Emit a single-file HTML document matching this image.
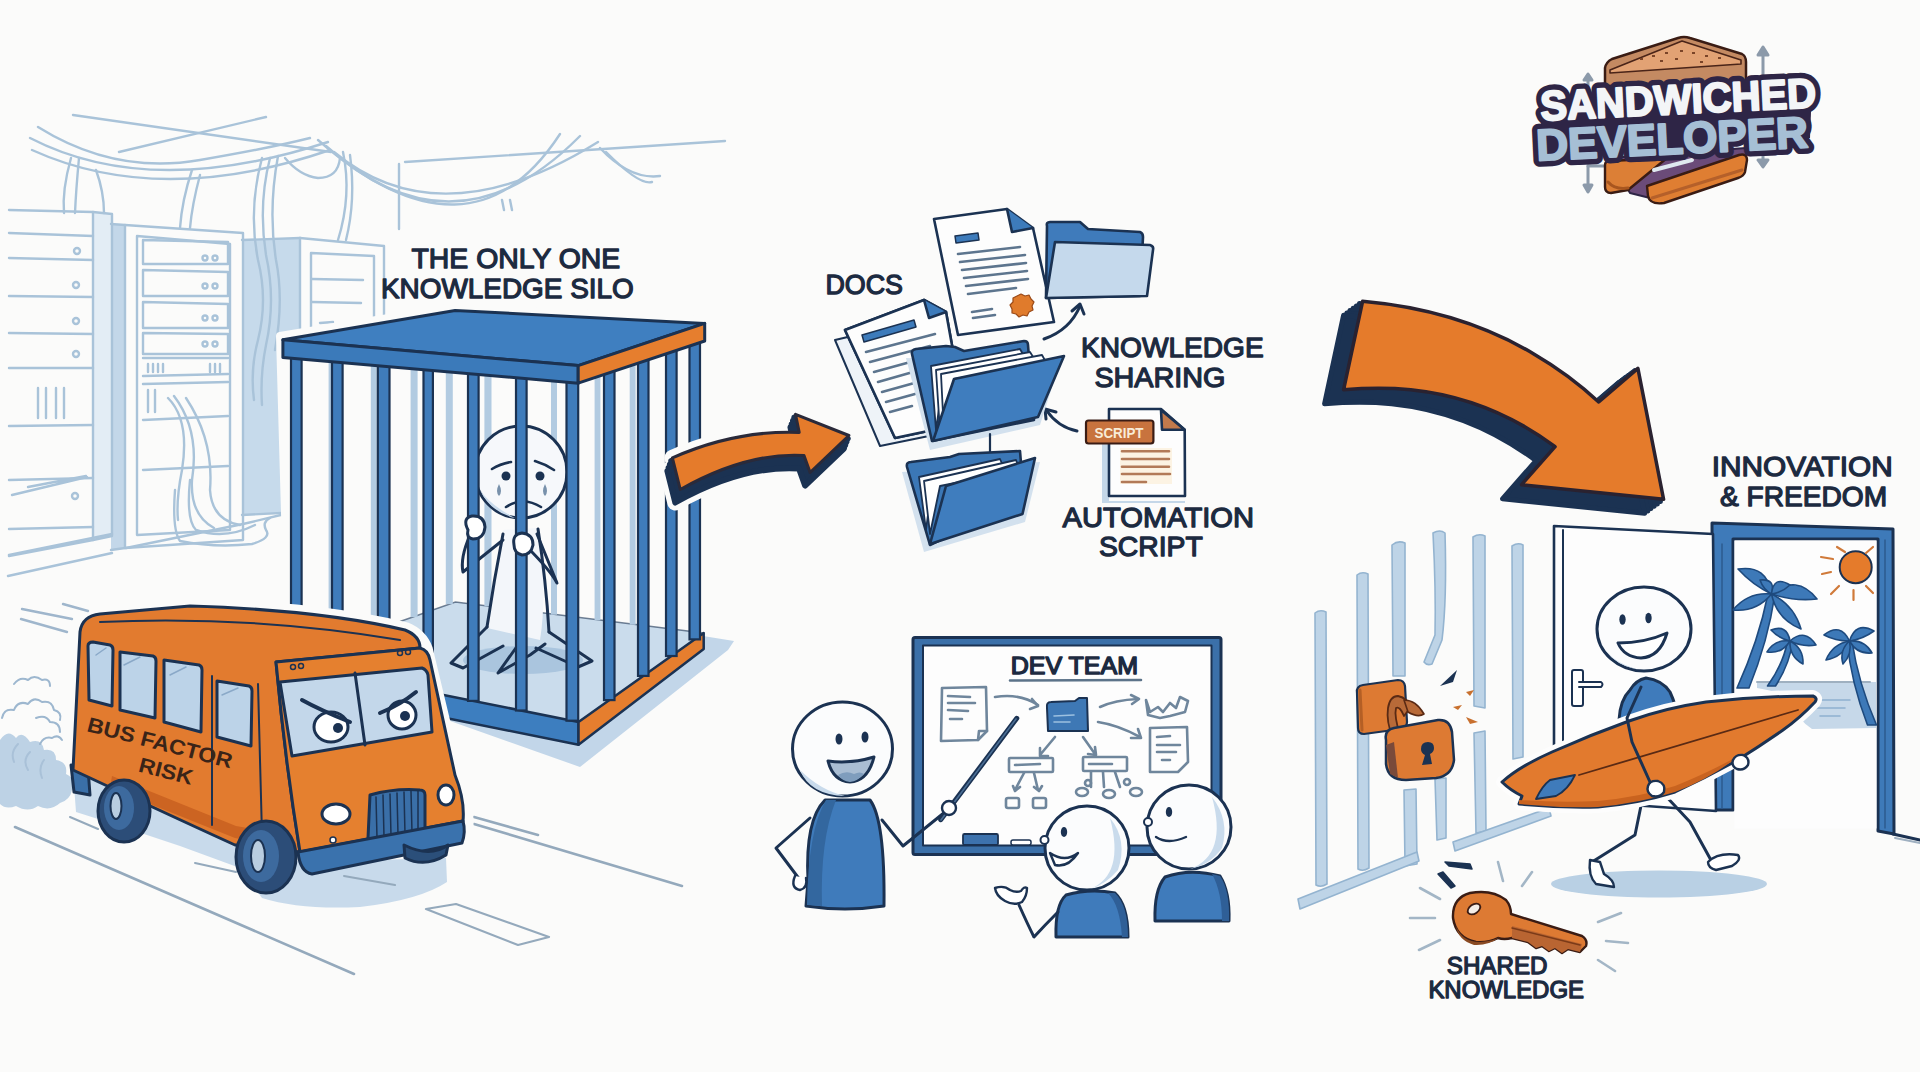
<!DOCTYPE html>
<html><head><meta charset="utf-8">
<style>
html,body{margin:0;padding:0;background:#fbfbfa;width:1920px;height:1072px;overflow:hidden}
svg{display:block}
text{font-family:"Liberation Sans",sans-serif;font-weight:bold}
#labels text{font-weight:normal}
</style></head>
<body>
<svg width="1920" height="1072" viewBox="0 0 1920 1072">
<rect width="1920" height="1072" fill="#fbfbfa"/>

<!-- ============ SERVER ROOM (sketch) ============ -->
<g id="server" fill="none" stroke="#a9c3d9" stroke-width="2.4" stroke-linecap="round" stroke-linejoin="round">
<!-- rack3 filled -->
<path d="M242 240 L300 238 L300 512 L242 515 Z" fill="#c6daeb" stroke="none"/>
<path d="M111 224 L125 225 L125 548 L111 550 Z" fill="#c3d7e9" stroke="none"/>
<path d="M93 212 L112 214 L112 536 L93 540 Z" fill="#e3edf5" stroke="none"/>
<!-- wires -->
<path d="M73 115 L331 152"/>
<path d="M119 152 L266 117"/>
<path d="M38 127 Q115 175 200 160 Q270 148 310 138"/>
<path d="M30 138 Q150 200 328 142"/>
<path d="M32 150 Q160 208 330 150"/>
<path d="M318 140 Q470 272 560 134"/>
<path d="M326 146 Q455 262 580 136"/>
<path d="M334 152 Q440 240 598 142"/>
<path d="M405 162 L725 141"/>
<path d="M600 148 Q630 180 660 176"/>
<path d="M606 152 Q640 186 652 182"/>
<path d="M399 164 L399 229"/>
<path d="M502 200 L504 210 M510 200 L512 210"/>
<path d="M71 158 Q62 190 64 213"/>
<path d="M79 158 Q76 190 75 213"/>
<path d="M96 170 Q104 192 104 213"/>
<path d="M192 170 Q182 200 180 228"/>
<path d="M200 175 Q192 205 190 228"/>
<path d="M262 158 Q248 210 258 260 Q268 300 258 340 Q250 370 254 400"/>
<path d="M270 158 Q258 205 266 255 Q276 300 266 345 Q260 375 262 405"/>
<path d="M278 156 Q268 210 276 260 Q284 300 275 350"/>
<path d="M285 158 Q300 176 318 178 Q338 178 340 158"/>
<path d="M343 152 Q352 195 338 240"/>
<path d="M350 155 Q356 200 346 240"/>
<!-- rack1 -->
<path d="M9 210 L93 212 L112 214 L112 536 L93 540 L9 556"/>
<path d="M93 212 L93 540"/>
<path d="M9 233 L93 236 M9 258 L93 260 M9 296 L93 297 M9 333 L93 334 M9 368 L93 368 M9 426 L93 425 M9 480 L93 478 M9 529 L93 527"/>
<circle cx="77" cy="251" r="3"/><circle cx="76" cy="285" r="3"/><circle cx="76" cy="321" r="3"/><circle cx="76" cy="354" r="3"/><circle cx="75" cy="496" r="3"/>
<path d="M38 388 L38 418 M46 388 L46 418 M56 388 L56 418 M64 388 L64 418"/>
<!-- rack2 -->
<path d="M111 224 L125 225 L243 233 L243 540 L125 548 L111 550"/>
<path d="M125 225 L125 548"/>
<path d="M137 236 L230 244 L230 530 L137 535 Z"/>
<path d="M143 240 L228 242 L228 264 L143 264 Z"/>
<path d="M143 270 L228 272 L228 296 L143 296 Z"/>
<path d="M143 302 L228 304 L228 328 L143 328 Z"/>
<path d="M143 333 L228 334 L228 354 L143 354 Z"/>
<path d="M143 358 L228 358 M143 376 L228 374"/>
<path d="M148 364 L148 372 M153 364 L153 372 M158 364 L158 372 M163 364 L163 372 M210 364 L210 372 M215 364 L215 372 M220 364 L220 372"/>
<path d="M143 384 L228 382 M143 420 L228 416"/>
<path d="M148 390 L148 412 M155 390 L155 412"/>
<path d="M143 470 L228 466"/>
<circle cx="205" cy="258" r="2.5"/><circle cx="215" cy="258" r="2.5"/>
<circle cx="205" cy="286" r="2.5"/><circle cx="215" cy="286" r="2.5"/>
<circle cx="205" cy="318" r="2.5"/><circle cx="215" cy="318" r="2.5"/>
<circle cx="205" cy="344" r="2.5"/><circle cx="215" cy="344" r="2.5"/>
<path d="M168 398 Q190 420 182 470 Q176 500 178 520"/>
<path d="M174 396 Q200 430 192 480 Q190 515 214 528"/>
<path d="M186 398 Q214 440 210 490 Q212 520 240 525"/>
<!-- rack3 / rack4 -->
<path d="M242 240 L300 238"/>
<path d="M300 238 L384 246 L384 330"/>
<path d="M300 238 L300 512"/>
<path d="M311 330 L311 253 L374 256 L374 320"/>
<path d="M312 279 L363 280 M312 302 L361 303 M320 323 L333 322"/>
<path d="M242 515 L300 512"/>
<!-- floor lines -->
<path d="M9 555 L112 534 M8 576 L112 553 M126 548 L243 524 M243 524 L285 514 M285 524 L320 506"/>
<path d="M12 495 L87 477 M28 487 L86 476"/>
<path d="M175 490 Q172 530 180 541 Q215 548 252 544 Q272 538 266 530 Q262 522 270 518"/>
<path d="M190 480 Q186 520 196 530 Q225 540 255 525"/>
</g>

<!-- ============ CAGE ============ -->
<g id="cage">
<path d="M280 336 L455 307 L709 320 L709 660 L585 748 L290 690 Z" fill="#fbfbfa" stroke="#fbfbfa" stroke-width="8" stroke-linejoin="round"/>
<path d="M436 716 L580 767 L728 650 L734 641 L703 636 L578 744 Z" fill="#c2d6e9"/>
<path d="M290 670 L300 655 L400 621.5 L455.4 602 L703.7 633 L578.5 722 L436 693.4 L300 666 Z" fill="#cadcec"/>
<path d="M400 621.5 L455.4 602 L703.7 633" fill="none" stroke="#1b3252" stroke-width="1.5" opacity=".6"/>
<ellipse cx="523" cy="660" rx="60" ry="14" fill="#aac5de"/>
<rect x="328.6" y="360" width="5.8" height="287.7" fill="#b2cbe1"/>
<rect x="370.8" y="360" width="5.8" height="272.1" fill="#b2cbe1"/>
<rect x="410.6" y="360" width="7.0" height="257.1" fill="#b2cbe1"/>
<rect x="445.8" y="360" width="7.0" height="244.1" fill="#b2cbe1"/>
<rect x="484.4" y="360" width="7.1" height="246.2" fill="#b2cbe1"/>
<rect x="551.0" y="360" width="6.0" height="254.7" fill="#b2cbe1"/>
<rect x="594.6" y="360" width="5.8" height="260.2" fill="#b2cbe1"/>
<rect x="629.7" y="360" width="5.9" height="264.7" fill="#b2cbe1"/>
<g stroke="#1b3252" stroke-width="3" fill="none" stroke-linecap="round" stroke-linejoin="round">
<path d="M503 530 Q494 580 487 628 L540 640 Q548 590 537 528 Z" fill="#f3f6fa" stroke="none"/>
<path d="M503 534 Q494 580 487 627 M538 529 Q546 580 549 632"/>
<path d="M487 627 L451 663 L463 668 L503 646 M518 645 L498 673 L530 655 L545 644 M549 632 L592 661 L578 667 L536 648"/>
<path d="M503 540 L463 572 Q460 558 470 535"/>
<path d="M537 534 L557 583 Q550 570 528 548"/>
<circle cx="521" cy="472" r="46" fill="#f6f8fb"/>
<path d="M480 490 Q490 512 515 518 Q490 505 480 490Z" fill="#c9dbec" stroke="none"/>
<path d="M492 469 Q500 464 511 462 M535 461 Q545 464 554 470" stroke-width="2.6"/>
<circle cx="506" cy="476" r="4.5" fill="#1b3252" stroke="none"/><circle cx="540" cy="476" r="4.5" fill="#1b3252" stroke="none"/>
<path d="M506 507 Q523 496 541 507" stroke-width="2.6"/>
<path d="M499 484 Q495 492 499 496 Q503 492 499 484Z" fill="#7891ab" stroke="none"/>
<path d="M545 484 Q541 492 545 496 Q549 492 545 484Z" fill="#7891ab" stroke="none"/>
</g>
<path d="M290 664 L436 693.4 L578.5 722 L578.5 744.7 L436 716 L290 686 Z" fill="#3d7ebf" stroke="#1b3252" stroke-width="2.5" stroke-linejoin="round"/>
<path d="M578.5 722 L703.7 633 L703.7 649 L578.5 744.7 Z" fill="#e67e2e" stroke="#1b3252" stroke-width="2.5" stroke-linejoin="round"/>
<rect x="291.0" y="357.0" width="10.6" height="308.4" fill="#3f7cbb" stroke="#1b3252" stroke-width="2.2"/>
<rect x="332.0" y="360.6" width="10.6" height="313.0" fill="#3f7cbb" stroke="#1b3252" stroke-width="2.2"/>
<rect x="377.8" y="364.7" width="11.7" height="318.2" fill="#3f7cbb" stroke="#1b3252" stroke-width="2.2"/>
<rect x="423.5" y="368.5" width="9.4" height="323.3" fill="#3f7cbb" stroke="#1b3252" stroke-width="2.2"/>
<rect x="468.0" y="372.5" width="10.6" height="328.4" fill="#3f7cbb" stroke="#1b3252" stroke-width="2.2"/>
<rect x="516.0" y="376.7" width="10.6" height="333.8" fill="#3f7cbb" stroke="#1b3252" stroke-width="2.2"/>
<rect x="566.5" y="381.2" width="11.7" height="339.5" fill="#3f7cbb" stroke="#1b3252" stroke-width="2.2"/>
<rect x="604.0" y="369.1" width="10.5" height="331.0" fill="#3f7cbb" stroke="#1b3252" stroke-width="2.2"/>
<rect x="638.0" y="357.7" width="10.5" height="318.2" fill="#3f7cbb" stroke="#1b3252" stroke-width="2.2"/>
<rect x="666.0" y="348.4" width="10.6" height="307.6" fill="#3f7cbb" stroke="#1b3252" stroke-width="2.2"/>
<rect x="689.5" y="340.6" width="10.5" height="298.8" fill="#3f7cbb" stroke="#1b3252" stroke-width="2.2"/>
<g stroke="#1b3252" stroke-width="3" fill="#fff"><path d="M468 530 Q462 518 472 516 Q484 515 485 527 Q484 539 473 539 Q466 538 468 530Z"/><path d="M514 545 Q512 534 522 533 Q533 534 533 545 Q531 555 522 555 Q514 553 514 545Z"/></g>
<path d="M282.9 339.8 L455.1 310.5 L704.7 323.4 L578.2 365.6 Z" fill="#3f7fc0" stroke="#1b3252" stroke-width="3" stroke-linejoin="round"/>
<path d="M282.9 339.8 L578.2 365.6 L578.2 383.2 L282.9 357.4 Z" fill="#3b7aba" stroke="#1b3252" stroke-width="3" stroke-linejoin="round"/>
<path d="M578.2 365.6 L704.7 323.4 L704.7 341 L578.2 383.2 Z" fill="#e67e2e" stroke="#1b3252" stroke-width="3" stroke-linejoin="round"/>
</g>

<!-- ============ BUS ============ -->
<g id="bus" stroke="#1b3252" stroke-width="3" stroke-linejoin="round" stroke-linecap="round">
<!-- road -->
<g stroke="#94a9bc" stroke-width="2.6" fill="none">
<path d="M15 827 L354 974"/>
<path d="M474 824 L682 886"/>
<path d="M474 817 L538 835"/>
<path d="M426 909 L456 904 L549 937 L518 945 Z" stroke-width="2.2"/>
</g>
<!-- halo -->
<path d="M80 632 Q82 616 100 614 L190 606 Q320 610 405 630 Q420 636 425 650 L455 775 Q468 800 465 840 L446 870 L310 876 L290 895 L240 892 L232 870 L140 836 L100 836 L71 795 L73 770 Z" fill="#fbfbfa" stroke="#fbfbfa" stroke-width="16"/>
<!-- shadow -->
<path d="M76 812 L120 826 L180 846 L240 868 L262 898 Q300 910 360 907 Q420 900 447 882 L446 858 L300 862 L235 840 L73 772 Z" fill="#c8daeb" stroke="none"/>
<path d="M70 817 L98 829 M195 863 L236 872 M344 876 L395 885" stroke="#94a9bc" stroke-width="2" fill="none"/>
<!-- smoke -->
<g fill="#bdd2e5" stroke="#9db7cf" stroke-width="2">
<path d="M72 790 Q70 800 60 803 Q50 812 38 806 Q28 813 16 806 Q6 810 0 804 L0 740 Q8 728 16 738 Q22 730 30 742 Q42 738 44 750 Q56 748 56 760 Q68 762 66 774 Q76 778 72 790 Z" stroke="none"/>
<path d="M18 744 Q10 752 14 762 M30 752 Q22 760 28 770 M44 760 Q38 768 42 778" fill="none" stroke="#a9c1d8"/>
<path d="M60 732 Q60 722 50 722 Q46 714 36 718 M40 744 Q44 736 52 738 Q58 734 62 740" fill="none"/>
<path d="M2 718 Q4 708 14 710 Q18 700 28 704 Q34 696 42 702 Q52 700 54 710 Q62 712 60 720" fill="none"/>
<path d="M14 684 Q20 676 28 680 Q34 674 42 680 Q50 678 50 686" fill="none"/>
</g>
<path d="M22 609 L72 619 M21 619 L67 632 M63 604 L88 611" stroke="#9fb6cc" stroke-width="2.4" fill="none"/>

<!-- rear bumper -->
<path d="M71 765 L88 768 L90 795 L74 792 Z" fill="#3a6fa8"/>
<!-- body side -->
<path d="M80 632 Q82 616 100 614 L190 606 Q320 610 405 630 Q420 636 420 648 L276 662 Q285 760 300 852 L235 845 Q180 820 73 770 Z" fill="#e27b2f"/>
<!-- front face -->
<path d="M276 662 L420 648 Q428 650 430 660 L455 775 Q465 800 463 821 L300 852 Q285 760 276 662 Z" fill="#e5802f"/>
<path d="M110 788 L235 838 L287 847 L288 835 L236 826 L112 776 Z" fill="#cc6422" stroke="none"/>
<!-- roof highlight line -->
<path d="M100 622 Q250 615 400 640" fill="none" stroke-width="2"/>
<!-- side windows -->
<g fill="#bcd3e8">
<path d="M88 646 Q88 642 93 642 L110 645 Q113 646 113 650 L112 706 L89 700 Z"/>
<path d="M120 652 L153 656 Q156 657 156 661 L155 718 L120 710 Z"/>
<path d="M164 660 L199 665 Q202 666 202 670 L201 732 L164 722 Z"/>
<path d="M217 681 L249 686 Q252 687 252 691 L251 746 L217 737 Z"/>
</g>
<path d="M96 655 L106 648 M124 665 L140 657 M170 675 L186 667 M222 695 L238 688" stroke="#8aa9c8" stroke-width="1.5" fill="none"/>
<!-- door -->
<path d="M212 676 L212 825 M258 684 L262 835" fill="none" stroke-width="2"/>
<!-- windshield -->
<path d="M280 682 L422 668 Q427 670 428 675 L432 732 L292 756 Z" fill="#c3d7ea"/>
<path d="M355 673 L365 745" fill="none"/>
<!-- eyes -->
<g>
<ellipse cx="331" cy="727" rx="17" ry="15" fill="#fff"/>
<ellipse cx="402" cy="715" rx="14" ry="14" fill="#fff"/>
<circle cx="338" cy="728" r="5" fill="#1b3252" stroke="none"/>
<circle cx="405" cy="716" r="5" fill="#1b3252" stroke="none"/>
<path d="M302 700 Q320 710 350 722" fill="none" stroke-width="4"/>
<path d="M380 713 Q400 705 416 692" fill="none" stroke-width="4"/>
</g>
<!-- front lights top -->
<circle cx="293" cy="667" r="2.5" fill="none" stroke-width="1.5"/><circle cx="301" cy="666" r="2.5" fill="none" stroke-width="1.5"/>
<circle cx="400" cy="653" r="2.5" fill="none" stroke-width="1.5"/><circle cx="408" cy="652" r="2.5" fill="none" stroke-width="1.5"/>
<!-- grille -->
<path d="M370 795 Q395 788 420 790 Q425 790 425 795 L425 832 Q400 836 372 842 Q368 842 368 838 Z" fill="#3a6fa8"/>
<path d="M376 797 L377 838 M383 795 L384 837 M390 794 L391 836 M397 793 L398 835 M404 792 L405 834 M411 791 L412 833 M418 791 L418 832" stroke-width="1.5" fill="none"/>
<!-- headlights -->
<ellipse cx="336" cy="814" rx="14" ry="10" fill="#fff"/>
<ellipse cx="446" cy="795" rx="8" ry="10" fill="#fff"/>
<circle cx="333" cy="840" r="3" fill="#fff" stroke-width="1.5"/>
<!-- bumper -->
<path d="M298 852 L463 821 Q466 832 462 843 L312 874 Q300 872 298 852 Z" fill="#3a72ad"/>
<!-- wheels -->
<path d="M404 845 Q430 858 448 845 L446 855 Q425 868 405 858 Z" fill="#2b4f7a"/>
<ellipse cx="124" cy="811" rx="26" ry="31" fill="#2c4d78"/>
<ellipse cx="119" cy="808" rx="15" ry="22" fill="#3d6a9e" stroke="none"/>
<ellipse cx="116" cy="806" rx="5.5" ry="13" fill="#b9cde0" stroke-width="2"/>
<ellipse cx="266" cy="857" rx="30" ry="36" fill="#2c4d78"/>
<ellipse cx="261" cy="856" rx="18" ry="26" fill="#3d6a9e" stroke="none"/>
<ellipse cx="258" cy="856" rx="7" ry="16" fill="#b9cde0" stroke-width="2"/>
<!-- text -->
<g transform="translate(86,731) rotate(14.5)" fill="#3a2418" stroke="none">
<text x="0" y="0" font-size="21" textLength="149" lengthAdjust="spacingAndGlyphs">BUS FACTOR</text>
<text x="60" y="26" font-size="21" textLength="55" lengthAdjust="spacingAndGlyphs">RISK</text>
</g>
</g>

<!-- ============ ARROW 1 ============ -->
<g id="arrow1" stroke-linejoin="round">
<path d="M672.4 457.9 Q735 430 799.2 432.4 L795.5 414.3 L848.9 435.5 L810.1 472.5 L804 455.5 Q747 452 680.3 489.5 Z" transform="translate(-5,13)" fill="#fbfbfa" stroke="#fbfbfa" stroke-width="16"/>
<path d="M672.4 457.9 Q735 430 799.2 432.4 L795.5 414.3 L848.9 435.5 L810.1 472.5 L804 455.5 Q747 452 680.3 489.5 Z" fill="#fbfbfa" stroke="#fbfbfa" stroke-width="16"/>
<path d="M672.4 457.9 Q735 430 799.2 432.4 L795.5 414.3 L848.9 435.5 L810.1 472.5 L804 455.5 Q747 452 680.3 489.5 Z" transform="translate(-1.2,3.2)" fill="#1b3252" stroke="#1b3252" stroke-width="6"/>
<path d="M672.4 457.9 Q735 430 799.2 432.4 L795.5 414.3 L848.9 435.5 L810.1 472.5 L804 455.5 Q747 452 680.3 489.5 Z" transform="translate(-2.5,6.5)" fill="#1b3252" stroke="#1b3252" stroke-width="6"/>
<path d="M672.4 457.9 Q735 430 799.2 432.4 L795.5 414.3 L848.9 435.5 L810.1 472.5 L804 455.5 Q747 452 680.3 489.5 Z" transform="translate(-3.8,9.8)" fill="#1b3252" stroke="#1b3252" stroke-width="6"/>
<path d="M672.4 457.9 Q735 430 799.2 432.4 L795.5 414.3 L848.9 435.5 L810.1 472.5 L804 455.5 Q747 452 680.3 489.5 Z" transform="translate(-5.0,13.0)" fill="#1b3252" stroke="#1b3252" stroke-width="6"/>
<path d="M672.4 457.9 Q735 430 799.2 432.4 L795.5 414.3 L848.9 435.5 L810.1 472.5 L804 455.5 Q747 452 680.3 489.5 Z" fill="#e57b2b" stroke="#2a2a3a" stroke-width="3"/>
</g>

<!-- ============ DOCS ============ -->
<g id="docs" stroke="#1b3252" stroke-width="2.6" stroke-linejoin="round" stroke-linecap="round">
<!-- halo -->
<!-- back doc (upright) -->
<path d="M934 219 L1007 209 L1033 228 L1054 322 L958 335 Z" fill="#fdfdfd"/>
<path d="M1007 209 L1012 232 L1033 228" fill="#3d7bbb"/>
<path d="M955 236 L978 233 L979 240 L956 243 Z" fill="#3d7bbb" stroke-width="1.5"/>
<path d="M958 254 L1020 247 M960 262 L1025 255 M962 270 L1026 263 M964 278 L1027 271 M966 286 L1028 279 M968 294 L1016 288 M972 312 L992 309 M973 318 L995 315" stroke="#5d758e" stroke-width="2.6" fill="none"/>
<path d="M1017 296 l4 -2 l4 2 l4 -1 l2 4 l3 3 l-2 4 l1 4 l-4 2 l-2 4 l-4 -1 l-4 2 l-3 -3 l-4 -1 l0 -4 l-2 -4 l3 -3 l0 -4 z" fill="#e07b2c" stroke="#9a4a18" stroke-width="1.2"/>
<!-- top right folder -->
<path d="M1047 226 Q1046 222 1050 222 L1080 222 L1088 229 L1140 232 Q1143 233 1143 237 L1140 296 L1046 298 Z" fill="#3f7bbb"/>
<path d="M1055 242 L1150 245 Q1154 246 1153 250 L1147 296 L1046 298 Z" fill="#c5d9ec"/>
<!-- small arrows -->
<path d="M1044 339 Q1070 330 1080 306" fill="none" stroke-width="3"/>
<path d="M1072 311 L1080 304 L1084 314" fill="none" stroke-width="3"/>
<path d="M1077 431 Q1058 427 1047 411" fill="none" stroke-width="3"/>
<path d="M1046 419 L1045 409 L1056 412" fill="none" stroke-width="3"/>
<!-- left docs -->
<path d="M835 340 L920 320 L968 428 L880 446 Z" fill="#eef3f8" stroke-width="2"/>
<path d="M845 330 L924 300 L946 312 L966 423 L895 438 Z" fill="#fdfdfd"/>
<path d="M845 330 L924 300 L946 312 L966 423 L895 438 Z" fill="#fdfdfd"/>
<path d="M924 300 L929 318 L946 312" fill="#3d7bbb"/>
<path d="M862 335 L914 320 L916 327 L864 342 Z" fill="#3d7bbb" stroke-width="1.5"/>
<path d="M866 352 L935 334 M870 362 L930 346 M874 372 L925 358 M878 382 L920 370 M882 392 L918 382 M886 402 L915 394 M890 412 L912 406" stroke="#5d758e" stroke-width="2.6" fill="none"/>
<!-- main folder -->
<path d="M906 358 L930 450 L1040 425 L1060 362 Z" fill="#d3e1ee" stroke="none"/>
<path d="M912 354 Q911 350 916 349 L946 346 L955 347 L964 351 L1024 341 Q1028 341 1028 345 L1034 420 L932 441 Z" fill="#3b77b6"/>
<path d="M931 366 L1020 349 L1024 356 L944 372 L936 430 Z" fill="#fff" stroke-width="1.8"/>
<path d="M936 370 L1030 352 L1035 360 L950 376 L940 432 Z" fill="#fff" stroke-width="1.8"/>
<path d="M941 374 L1042 355 L1047 364 L954 379 L944 434 Z" fill="#fff" stroke-width="1.8"/>
<path d="M954 379 L1064 356 L1038 417 L933 441 Z" fill="#3f7dbe"/>
<!-- bottom folder -->
<path d="M902 472 L924 552 L1025 522 L1040 462 Z" fill="#d3e1ee" stroke="none"/>
<path d="M990 434 L990 454" fill="none" stroke-width="2.2"/>
<path d="M907 467 Q906 462 911 462 L950 457 L959 454 L1020 451 L1024 500 L930 545 Z" fill="#3b77b6"/>
<path d="M919 477 L1000 459 L1004 468 L932 484 L926 530 Z" fill="#fff" stroke-width="1.8"/>
<path d="M924 481 L1016 460 L1020 470 L940 486 L930 534 Z" fill="#fff" stroke-width="1.8"/>
<path d="M946 486 L1035 458 L1022.5 514 L930 544 Z" fill="#3f7dbe"/>
<!-- script doc -->
<path d="M1102 444 L1109 444 L1109 501 L1185 501 L1185 503 L1102 503 Z" fill="#c4d7e8" stroke="none"/>
<path d="M1109 409 L1161 409 L1184.7 429.8 L1185 496 L1109 496 Z" fill="#fdfdfd"/>
<path d="M1161 410 L1162 429.8 L1184.7 429.8 Z" fill="#c27a4c"/>
<rect x="1086" y="420.5" width="67.4" height="23" rx="2.5" fill="#c8733e" stroke="#3a1c14" stroke-width="2.2"/>
<text x="1094.5" y="437.5" font-size="15.5" fill="#f8ecd8" stroke="none" font-weight="normal" textLength="49" lengthAdjust="spacingAndGlyphs">SCRIPT</text>
<rect x="1120" y="448" width="52" height="36" fill="#fcf3e3" stroke="none"/>
<path d="M1122 451.3 L1169 451.3 M1122 459 L1169 459 M1122 466.7 L1169 466.7 M1122 474 L1170 474 M1122 482 L1146 482" stroke="#b27a58" stroke-width="2.6" fill="none"/>
</g>

<!-- ============ WHITEBOARD / TEAM ============ -->
<g id="team" stroke="#1b3252" stroke-width="3" stroke-linejoin="round" stroke-linecap="round">
<!-- whiteboard -->
<rect x="913" y="637.5" width="308" height="217" rx="2" fill="#3b70a9"/>
<rect x="923" y="645.5" width="288.5" height="200" fill="#fdfdfd" stroke-width="2"/>
<rect x="963" y="834" width="35" height="11" rx="1.5" fill="#3d72ad" stroke-width="1.8"/>
<rect x="1011" y="840" width="20" height="5" rx="2" fill="#fff" stroke-width="1.5"/>
<text x="1010.7" y="673.7" font-size="23.6" fill="#1c2a40" stroke="#1c2a40" stroke-width="1.4" style="font-weight:normal" textLength="127.3" lengthAdjust="spacingAndGlyphs">DEV TEAM</text>
<path d="M1010 680.5 L1141 680" stroke="#5c7389" stroke-width="2.6"/>
<g fill="none" stroke="#6f869c" stroke-width="2.6">
<path d="M942 688 L986 687 L987 731 L978 740 L941 741 Z"/>
<path d="M978 740 L979 731 L987 731"/>
<path d="M948 696 L970 697 M948 703 L975 703 M948 710 L968 711 M950 719 L962 719"/>
<path d="M995 697 Q1020 693 1038 705"/>
<path d="M1032 699 L1038 706 L1030 709"/>
<path d="M1100 707 Q1115 700 1138 699"/>
<path d="M1131 695 L1139 699 L1132 704"/>
<path d="M1098 722 Q1118 725 1140 737"/>
<path d="M1131 738 L1141 738 L1138 729"/>
<path d="M1146 700 L1150 712 L1158 707 L1163 712 L1170 703 L1176 708 L1180 697 L1188 701 L1185 712 L1170 716 L1160 718 L1148 715 Z"/>
<path d="M1150 728 L1187 727 L1188 762 L1178 772 L1150 772 Z"/>
<path d="M1157 737 L1170 736 M1157 745 L1180 745 M1157 752 L1176 752 M1162 760 L1170 760"/>
<path d="M1055 737 L1040 755 M1040 748 L1040 756 L1048 756"/>
<path d="M1083 737 L1095 754 M1088 754 L1096 755 L1095 747"/>
<rect x="1009" y="758" width="44" height="14" rx="1"/>
<rect x="1083" y="757" width="44" height="14" rx="1"/>
<path d="M1015 765 L1040 764 M1089 764 L1112 764"/>
<path d="M1024 773 L1015 790 M1034 773 L1038 790 M1013 786 L1015 791 L1020 787 M1034 787 L1039 791 L1042 786"/>
<rect x="1006" y="798" width="13" height="10" rx="2"/>
<rect x="1033" y="798" width="13" height="10" rx="2"/>
<path d="M1091 772 L1091 787 M1103 772 L1104 787 M1115 772 L1120 787"/>
<ellipse cx="1082" cy="792" rx="6" ry="4"/><ellipse cx="1109" cy="794" rx="6" ry="4"/><ellipse cx="1136" cy="792" rx="6" ry="4"/>
<circle cx="1088" cy="783" r="3"/><circle cx="1127" cy="782" r="3"/>
</g>
<path d="M1047 708 Q1046 702 1051 702 L1075 701 L1079 698 L1087 698 L1088 731 L1048 731 Z" fill="#3e78b5" stroke-width="2"/>
<path d="M1054 716 L1074 715 M1054 722 L1070 722" stroke="#9cc0e0" stroke-width="1.6"/>
<!-- presenter -->
<path d="M808 880 Q805 820 825 800 L870 800 Q885 820 884 906 Q845 912 806 906 Z" fill="#3f7bbb"/>
<path d="M822 906 Q820 840 836 800 L826 800 Q808 830 807 905 Z" fill="#33679f" stroke="none"/>
<path d="M810 818 L776 848 L800 880" fill="none"/>
<path d="M795 876 Q790 888 800 890 Q808 888 806 878" fill="#fff" stroke-width="2.4"/>
<path d="M882 820 L903 846 L945 812" fill="none"/>
<path d="M940.7 819.7 L1016.8 718.3" stroke-width="5"/>
<path d="M941 820 L1016 719" stroke="#4a6e95" stroke-width="1.6"/>
<circle cx="949" cy="808" r="7" fill="#fff" stroke-width="2.4"/>
<ellipse cx="842.5" cy="749" rx="50" ry="47" fill="#fbfcfd"/>
<path d="M800 770 Q810 795 845 796 Q820 790 800 770Z" fill="#c9dbec" stroke="none"/>
<ellipse cx="839" cy="739" rx="3.5" ry="5.5" fill="#1b3252" stroke="none"/>
<ellipse cx="865" cy="737" rx="3.5" ry="5.5" fill="#1b3252" stroke="none"/>
<path d="M828 761 Q851 764 874 757 Q868 781 850 782 Q833 781 828 761 Z" fill="#a9bdd3"/>
<path d="M838 775 Q846 770 854 774 Q860 771 864 774 Q858 781 850 782 Q842 781 838 775Z" fill="#7f9dbd" stroke="none"/>
<!-- listener 1 -->
<path d="M1056 937 Q1055 905 1066 895 Q1090 888 1115 893 Q1128 905 1128 937 Z" fill="#3f7bbb"/>
<path d="M1108 893 Q1120 905 1122 937 L1128 937 Q1128 905 1115 893 Z" fill="#2f5f97" stroke="none"/>
<path d="M1058 912 Q1045 925 1034 937 Q1028 925 1019 905" fill="none"/>
<path d="M995 888 Q1004 885 1010 890 Q1016 893 1021 891 Q1024 886 1027 888 Q1027 896 1022 902 Q1014 906 1005 901 Q996 896 995 888 Z" fill="#fff" stroke-width="2.4"/>
<circle cx="1087" cy="848" r="42" fill="#fbfcfd"/>
<path d="M1110 818 Q1128 840 1118 870 Q1105 885 1090 889 Q1125 875 1110 818 Z" fill="#c9dbec" stroke="none"/>
<circle cx="1044.5" cy="840" r="4" fill="#fff" stroke-width="2"/>
<ellipse cx="1064" cy="832" rx="3.2" ry="5" fill="#1b3252" stroke="none"/>
<path d="M1050 853 Q1065 863 1078 853 Q1068 868 1055 865 Z" fill="#fff" stroke-width="2.4"/>
<!-- listener 2 -->
<path d="M1155 921 Q1154 890 1165 877 Q1190 868 1220 876 Q1230 892 1229 921 Z" fill="#3f7bbb"/>
<path d="M1212 874 Q1222 892 1222 921 L1229 921 Q1230 890 1220 876 Z" fill="#2f5f97" stroke="none"/>
<circle cx="1189" cy="827" r="42" fill="#fbfcfd"/>
<path d="M1212 797 Q1230 820 1222 848 Q1210 865 1190 869 Q1228 855 1212 797 Z" fill="#c9dbec" stroke="none"/>
<circle cx="1148" cy="822" r="4" fill="#fff" stroke-width="2"/>
<ellipse cx="1169" cy="812" rx="3.2" ry="5" fill="#1b3252" stroke="none"/>
<path d="M1156 837 Q1168 845 1186 837" fill="none" stroke-width="2.4"/>
</g>

<!-- ============ BIG ARROW ============ -->
<g id="arrow2" stroke-linejoin="round">
<path d="M1362.6 301.3 Q1460 310 1533.8 353.9 Q1570 375 1598.7 402 L1637.9 368.4 L1663.6 499.3 L1521.5 484.8 L1555.1 446.7 Q1490 398 1410.7 389.7 Q1380 387 1343.6 389.7 Z" transform="translate(-3.2,2.3)" fill="#1b3252" stroke="#1b3252" stroke-width="5"/>
<path d="M1362.6 301.3 Q1460 310 1533.8 353.9 Q1570 375 1598.7 402 L1637.9 368.4 L1663.6 499.3 L1521.5 484.8 L1555.1 446.7 Q1490 398 1410.7 389.7 Q1380 387 1343.6 389.7 Z" transform="translate(-6.3,4.7)" fill="#1b3252" stroke="#1b3252" stroke-width="5"/>
<path d="M1362.6 301.3 Q1460 310 1533.8 353.9 Q1570 375 1598.7 402 L1637.9 368.4 L1663.6 499.3 L1521.5 484.8 L1555.1 446.7 Q1490 398 1410.7 389.7 Q1380 387 1343.6 389.7 Z" transform="translate(-9.5,7.0)" fill="#1b3252" stroke="#1b3252" stroke-width="5"/>
<path d="M1362.6 301.3 Q1460 310 1533.8 353.9 Q1570 375 1598.7 402 L1637.9 368.4 L1663.6 499.3 L1521.5 484.8 L1555.1 446.7 Q1490 398 1410.7 389.7 Q1380 387 1343.6 389.7 Z" transform="translate(-12.7,9.3)" fill="#1b3252" stroke="#1b3252" stroke-width="5"/>
<path d="M1362.6 301.3 Q1460 310 1533.8 353.9 Q1570 375 1598.7 402 L1637.9 368.4 L1663.6 499.3 L1521.5 484.8 L1555.1 446.7 Q1490 398 1410.7 389.7 Q1380 387 1343.6 389.7 Z" transform="translate(-15.8,11.7)" fill="#1b3252" stroke="#1b3252" stroke-width="5"/>
<path d="M1362.6 301.3 Q1460 310 1533.8 353.9 Q1570 375 1598.7 402 L1637.9 368.4 L1663.6 499.3 L1521.5 484.8 L1555.1 446.7 Q1490 398 1410.7 389.7 Q1380 387 1343.6 389.7 Z" transform="translate(-19.0,14.0)" fill="#1b3252" stroke="#1b3252" stroke-width="5"/>
<path d="M1362.6 301.3 Q1460 310 1533.8 353.9 Q1570 375 1598.7 402 L1637.9 368.4 L1663.6 499.3 L1521.5 484.8 L1555.1 446.7 Q1490 398 1410.7 389.7 Q1380 387 1343.6 389.7 Z" fill="#e57b2b" stroke="#2a2230" stroke-width="3.5"/>
</g>

<!-- ============ FENCE / DOOR / SURFER ============ -->
<g id="right" stroke="#1b3252" stroke-width="3" stroke-linejoin="round" stroke-linecap="round">
<!-- fence bars -->
<g fill="#bed4e7" stroke="#94b4d0" stroke-width="1.6" stroke-linejoin="round">
<path d="M1315 613 Q1320 609 1326 612 L1327 884 Q1321 888 1316 885 Z"/>
<path d="M1357 575 Q1362 571 1368 574 L1369 868 Q1363 872 1358 869 Z"/>
<path d="M1392 545 Q1398 540 1405 543 L1405 676 L1393 676 Z"/>
<path d="M1404 790 L1416 789 L1417 864 L1405 866 Z"/>
<path d="M1433 533 Q1440 529 1445 533 Q1447 600 1442 640 L1432 664 Q1427 666 1424 662 L1435 635 Q1436 590 1433 533 Z"/>
<path d="M1435 779 L1446 778 L1446 838 L1437 840 Z"/>
<path d="M1473 537 Q1479 533 1485 536 L1485 708 L1474 706 Z"/>
<path d="M1474 733 L1485 731 L1486 831 L1476 833 Z"/>
<path d="M1512 546 Q1518 542 1523 545 L1523 757 L1513 759 Z"/>
<path d="M1298 899 L1417 852 L1419 861 L1300 909 Z"/>
<path d="M1453 842 L1549 808 L1551 816 L1455 851 Z"/>
</g>
<!-- door frame & scene -->
<path d="M1712 523 L1893 529 L1894 834 L1878 831 L1878 539 L1733 539 L1733 810 L1713 810 Z" fill="#3e7ab9"/>
<path d="M1722 544 L1722 808 M1885 540 L1885 828" stroke="#2d5b8e" stroke-width="1.5" fill="none"/>
<rect x="1734.5" y="540.5" width="142" height="288" fill="#fdfdfd" stroke="none"/>
<path d="M1757 682 L1876 682 L1876 728 L1812 729 Q1798 720 1794 706 Q1785 692 1757 688 Z" fill="#c6d8e9" stroke="none"/><path d="M1757 682 L1870 682" stroke="#9fb0c0" stroke-width="2"/>
<path d="M1810 700 L1850 700 M1815 708 L1845 708 M1820 716 L1840 716" stroke="#8fb0cf" stroke-width="1.5"/>
<circle cx="1855.7" cy="567.2" r="16" fill="#e57b2b" stroke-width="2"/>
<g stroke="#d07a3a" stroke-width="2.2"><path d="M1821 557 L1833 559 M1822 574 L1831 572 M1831 594 L1839 586 M1853.5 590 L1853.5 600 M1866 586 L1873 593 M1837 547 L1845 552 M1866 553 L1873 547"/></g>
<g fill="#3d79b8" stroke="#1e4a7e" stroke-width="1.6" stroke-linejoin="round">
<path d="M1768.0 594.0 Q1758.5 641.0 1737.0 688.0 L1749.0 688.0 Q1768.0 641.0 1775.0 594.0 Z"/>
<path d="M1771.5 594.0 Q1767.4 564.6 1738.0 569.0 Q1752.3 584.8 1771.5 594.0 Z"/>
<path d="M1771.5 594.0 Q1748.0 591.7 1733.0 610.0 Q1756.5 612.3 1771.5 594.0 Z"/>
<path d="M1771.5 594.0 Q1796.8 573.6 1817.0 599.0 Q1793.7 601.5 1771.5 594.0 Z"/>
<path d="M1771.5 594.0 Q1794.0 604.9 1801.0 629.0 Q1776.9 619.4 1771.5 594.0 Z"/>
<path d="M1771.5 594.0 Q1776.1 578.5 1760.0 580.0 Q1763.1 589.2 1771.5 594.0 Z"/>
<path d="M1771.5 594.0 Q1773.6 574.8 1790.0 585.0 Q1782.2 592.5 1771.5 594.0 Z"/>
<path d="M1787.5 641.0 Q1783.5 663.5 1767.5 686.0 L1775.5 686.0 Q1790.0 663.5 1792.5 641.0 Z"/>
<path d="M1790.0 641.0 Q1774.9 638.9 1767.0 652.0 Q1782.1 654.1 1790.0 641.0 Z"/>
<path d="M1790.0 641.0 Q1787.2 623.9 1771.0 630.0 Q1778.8 638.4 1790.0 641.0 Z"/>
<path d="M1790.0 641.0 Q1805.3 627.9 1816.0 645.0 Q1802.3 647.2 1790.0 641.0 Z"/>
<path d="M1790.0 641.0 Q1803.8 648.4 1803.0 664.0 Q1789.2 656.6 1790.0 641.0 Z"/>
<path d="M1847.0 641.0 Q1851.2 683.0 1867.5 725.0 L1876.5 725.0 Q1858.2 683.0 1852.0 641.0 Z"/>
<path d="M1849.5 641.0 Q1840.5 622.1 1824.0 635.0 Q1836.0 641.2 1849.5 641.0 Z"/>
<path d="M1849.5 641.0 Q1832.5 644.0 1826.0 660.0 Q1843.0 657.0 1849.5 641.0 Z"/>
<path d="M1849.5 641.0 Q1855.6 620.9 1874.0 631.0 Q1863.0 639.1 1849.5 641.0 Z"/>
<path d="M1849.5 641.0 Q1864.7 639.6 1872.0 653.0 Q1856.8 654.4 1849.5 641.0 Z"/>
<path d="M1849.5 641.0 Q1839.0 650.5 1843.0 664.0 Q1852.5 654.3 1849.5 641.0 Z"/>

</g>
<!-- door panel -->
<path d="M1554 526 L1713 534 L1716 811 L1562 800 L1554 800 Z" fill="#fdfdfd" stroke-width="2.6"/>
<path d="M1563 530 L1563 800" stroke-width="2" fill="none"/>
<rect x="1572" y="670" width="11" height="36" rx="2" fill="#fff" stroke-width="2"/>
<path d="M1579 682 L1601 682 Q1604 684 1601 687 L1579 687" fill="#fff" stroke-width="2"/>
<!-- shadow -->
<ellipse cx="1659" cy="884" rx="108" ry="13.5" fill="#b9d0e4" stroke="none"/>
<path d="M1893 834 L1920 840" stroke="#1b3252" stroke-width="3"/><path d="M1895 838 L1920 843" stroke="#9fb0c0" stroke-width="2"/>
<!-- surfer legs -->
<path d="M1643 796 L1635 835 L1592 862" fill="none"/>
<path d="M1590 860 Q1588 876 1596 884 L1614 887 Q1614 880 1604 874 L1600 862 Z" fill="#fff" stroke-width="2.4"/>
<path d="M1662 792 L1690 822 L1712 862" fill="none"/>
<path d="M1708 862 Q1718 852 1738 855 Q1742 860 1732 866 L1716 870 Q1708 868 1708 862Z" fill="#fff" stroke-width="2.4"/>
<!-- torso -->
<path d="M1619 720 Q1620 700 1630 690 Q1636 680 1646 678 Q1662 680 1670 692 Q1676 705 1678 718 Z" fill="#3f7bbb"/>
<!-- surfboard -->
<path d="M1502 782 Q1520 766 1552 752 Q1590 735 1629 721 Q1665 708 1706 702 Q1760 696 1813 696 Q1818 698 1815 702 Q1800 718 1783 730 Q1760 746 1736 761 Q1705 778 1675 792 Q1640 803 1598 807 Q1560 808 1519 804 L1522 796 Q1510 790 1502 782 Z" fill="#fdfdfd" stroke="#fdfdfd" stroke-width="12"/>
<path d="M1502 782 Q1520 766 1552 752 Q1590 735 1629 721 Q1665 708 1706 702 Q1760 696 1813 696 Q1818 698 1815 702 Q1800 718 1783 730 Q1760 746 1736 761 Q1705 778 1675 792 Q1640 803 1598 807 Q1560 808 1519 804 L1522 796 Q1510 790 1502 782 Z" fill="#e27a2e" stroke-width="3"/>
<path d="M1519 800 Q1560 803 1598 801 Q1640 797 1675 786 Q1710 772 1740 755 Q1712 778 1675 792 Q1640 803 1598 807 Q1560 808 1519 804 Z" fill="#c9631f" stroke="none"/>
<path d="M1579 775 L1798 710" stroke="#5a2a14" stroke-width="1.8" fill="none"/>
<path d="M1536 799 Q1542 786 1550 780 L1575 775 Q1568 790 1556 796 Z" fill="#3f7bbb" stroke-width="1.8"/>
<!-- arm -->
<path d="M1641 687 L1627 718 L1632 742 L1650 782 L1656 790" fill="none"/>
<path d="M1648 786 Q1650 780 1658 781 Q1666 784 1664 792 Q1660 798 1652 796 Q1646 792 1648 786Z" fill="#fff" stroke-width="2.4"/>
<path d="M1733 760 Q1736 754 1743 755 Q1750 758 1748 765 Q1744 771 1737 769 Q1731 766 1733 760Z" fill="#fff" stroke-width="2.4"/>
<!-- head -->
<ellipse cx="1644" cy="629" rx="47" ry="42" fill="#fbfcfd"/>
<path d="M1600 640 Q1610 665 1640 670 Q1608 662 1600 640Z" fill="#c9dbec" stroke="none"/>
<ellipse cx="1622.5" cy="619.5" rx="3.2" ry="5.2" fill="#1b3252" stroke="none"/>
<ellipse cx="1648.5" cy="618" rx="3.2" ry="5.2" fill="#1b3252" stroke="none"/>
<path d="M1618 643 Q1645 643 1667 633 Q1660 657 1641 658 Q1624 657 1618 643 Z" fill="#fff"/>
<!-- padlock -->
<path d="M1357 693 Q1356 686 1363 685 L1398 680 Q1404 680 1405 686 L1407 722 Q1407 728 1401 729 L1364 734 Q1358 734 1358 728 Z" fill="#dd7a33" stroke-width="2.2"/>
<path d="M1360 690 L1362 730" stroke="#b45f25" stroke-width="3" fill="none"/>
<path d="M1393 738 Q1386 722 1388 708 Q1390 696 1398 696 Q1408 698 1410 708 L1404 716 Q1400 706 1396 708 Q1394 716 1400 735 Z" fill="#b86a38" stroke="#5a2a14" stroke-width="1.8"/>
<path d="M1404 700 Q1416 700 1424 714 Q1418 718 1408 712 Z" fill="#b86a38" stroke="#5a2a14" stroke-width="1.6"/>
<path d="M1386 740 Q1384 730 1394 728 L1438 720 Q1450 719 1452 732 L1454 760 Q1452 776 1436 778 L1406 780 Q1388 780 1386 764 Z" fill="#dd7a33" stroke-width="2.5"/>
<path d="M1386 745 L1394 742 L1398 778 L1390 774 Z" fill="#7a4a3a" stroke="none"/>
<path d="M1428 742 Q1421 742 1421 749 Q1421 753 1425 755 L1422 765 L1432 764 L1430 754 Q1434 752 1434 748 Q1434 742 1428 742 Z" fill="#1b3252" stroke="none"/>
<g fill="#1b3252" stroke="none">
<path d="M1440 686 L1457 670 L1453 682 Z"/><path d="M1466 692 L1474 690 L1470 696 Z" fill="#c8702e"/><path d="M1453 707 L1462 705 L1458 710 Z" fill="#c8702e"/>
<path d="M1466 717 L1478 722 L1470 724 Z" fill="#c8702e"/>
</g>
<!-- key -->
<path d="M1453 918 Q1452 898 1470 893 Q1492 889 1506 900 Q1511 906 1511 914 L1582 936 Q1588 940 1586 946 L1580 952 L1568 949 L1562 953 L1555 948 L1549 951 L1542 946 L1536 948 L1528 942 L1512 938 Q1504 940 1498 938 Q1488 943 1476 942 Q1456 938 1453 918 Z" fill="#dd7a33" stroke="#3a1c14" stroke-width="2.4"/>
<path d="M1512 926 L1582 944 L1580 952 L1568 949 L1562 953 L1555 948 L1549 951 L1542 946 L1536 948 L1528 942 L1512 938 Z" fill="#b96532" stroke="none"/>
<path d="M1456 926 Q1462 942 1480 942 Q1494 941 1500 937 Q1488 946 1474 945 Q1458 940 1456 926Z" fill="#8a4a22" stroke="none"/>
<ellipse cx="1474" cy="909" rx="7" ry="4.5" fill="#f4eee8" stroke="#3a1c14" stroke-width="1.8" transform="rotate(-35 1474 909)"/>
<path d="M1512 928 L1580 945" stroke="#7a3a18" stroke-width="1.5" fill="none"/>
<g stroke="#a3b6c6" stroke-width="2.6" fill="none">
<path d="M1420 888 L1440 899 M1410 918 L1435 918 M1419 950 L1440 940 M1498 862 L1503 881 M1522 886 L1532 872 M1598 922 L1621 913 M1606 941 L1628 943 M1598 960 L1615 971"/>
</g>
<path d="M1445 862 L1470 864 L1472 869 L1449 866 Z M1438 874 L1443 872 L1455 886 L1451 888 Z" fill="#1b3252" stroke="#1b3252" stroke-width="1.5"/>
</g>

<!-- ============ LOGO ============ -->
<g id="logo" stroke-linejoin="round" stroke-linecap="round">
<!-- arrows -->
<g stroke="#8c9aaa" stroke-width="3" fill="#8c9aaa">
<path d="M1763 76 L1763 52" fill="none"/><path d="M1758 55 L1763 47 L1768 55 Z"/>
<path d="M1763 150 L1763 163" fill="none"/><path d="M1758 160 L1763 167 L1768 160 Z"/>
<path d="M1588 88 L1588 77" fill="none"/><path d="M1584 80 L1588 74 L1592 80 Z"/>
<path d="M1588 166 L1588 188" fill="none"/><path d="M1584 185 L1588 192 L1592 185 Z"/>
<path d="M1588 166 L1605 166 M1747 152 L1765 152" fill="none"/>
</g>
<!-- bottom bread -->
<path d="M1610 158 L1746 148 L1746 166 L1662 201 L1630 193 Z" fill="#6b4b79" stroke="#2e2546" stroke-width="2"/>
<path d="M1605 165 Q1605 161 1610 161 L1667 158 L1628 190 L1611 193 Q1605 193 1605 187 Z" fill="#dc7f36" stroke="#3a1c14" stroke-width="2.4"/>
<path d="M1608 182 Q1615 190 1628 188" stroke="#a8561f" stroke-width="3" fill="none"/>
<path d="M1647 186 L1739 155 Q1747 153 1747 160 L1745 172 Q1744 176 1738 178 L1664 203 Q1650 205 1648 196 Z" fill="#df7e32" stroke="#3a1c14" stroke-width="2.4"/>
<path d="M1652 198 L1742 170" stroke="#b5602a" stroke-width="3" fill="none"/>
<path d="M1654 170 L1692 160" stroke="#dfe8f0" stroke-width="4" fill="none"/>
<!-- top bread -->
<path d="M1605 68 Q1606 62 1612 59 L1678 38 Q1684 36 1690 38 L1742 54 Q1746 56 1746 62 L1746 84 L1605 86 Z" fill="#c48a62" stroke="#3a1c14" stroke-width="2.5"/>
<path d="M1610 70 L1682 41 L1741 60 L1741 64 L1610 73 Z" fill="#e2a274" stroke="#4a2418" stroke-width="1.6"/>
<g fill="#7a4428"><rect x="1640" y="58" width="3" height="2"/><rect x="1652" y="55" width="3" height="2"/><rect x="1665" y="52" width="3" height="2"/><rect x="1680" y="50" width="3" height="2"/><rect x="1692" y="52" width="3" height="2"/><rect x="1705" y="55" width="3" height="2"/><rect x="1718" y="57" width="3" height="2"/><rect x="1660" y="60" width="3" height="2"/><rect x="1675" y="58" width="3" height="2"/><rect x="1700" y="61" width="3" height="2"/></g>
<!-- plate -->
<g transform="translate(1541,120.5) rotate(-2.8)">
<text x="0" y="0" font-size="41.5" fill="#2e2546" stroke="#2e2546" stroke-width="13" textLength="276" lengthAdjust="spacingAndGlyphs">SANDWICHED</text>
</g>
<g transform="translate(1537,160.5) rotate(-2.8)">
<text x="0" y="0" font-size="44" fill="#2e2546" stroke="#2e2546" stroke-width="13" textLength="272" lengthAdjust="spacingAndGlyphs">DEVELOPER</text>
</g>
<path d="M1542 100 L1812 86 L1810 138 L1540 154 Z" fill="#2e2546"/>
<g transform="translate(1541,120.5) rotate(-2.8)">
<text x="0" y="0" font-size="41.5" fill="#f3f5f7" stroke="#f3f5f7" stroke-width="2.2" textLength="276" lengthAdjust="spacingAndGlyphs">SANDWICHED</text>
</g>
<g transform="translate(1537,160.5) rotate(-2.8)">
<text x="0" y="0" font-size="44" fill="#a6bfd5" stroke="#a6bfd5" stroke-width="2.2" textLength="272" lengthAdjust="spacingAndGlyphs">DEVELOPER</text>
</g>
</g>

<!-- ============ LABELS ============ -->
<g id="labels" fill="#1c2a40" stroke="#1c2a40" stroke-width="1.3" stroke-linejoin="round" font-weight="normal" style="font-weight:normal">
<text x="411.5" y="268.4" font-size="28.4" textLength="208.7" lengthAdjust="spacingAndGlyphs">THE ONLY ONE</text>
<text x="381.0" y="297.8" font-size="28.4" textLength="252.8" lengthAdjust="spacingAndGlyphs">KNOWLEDGE SILO</text>
<text x="825.4" y="294.3" font-size="28.4" textLength="77.6" lengthAdjust="spacingAndGlyphs">DOCS</text>
<text x="1081.0" y="356.8" font-size="28.4" textLength="182.7" lengthAdjust="spacingAndGlyphs">KNOWLEDGE</text>
<text x="1094.4" y="387.2" font-size="28.4" textLength="131.1" lengthAdjust="spacingAndGlyphs">SHARING</text>
<text x="1062.5" y="527.2" font-size="28.4" textLength="191.5" lengthAdjust="spacingAndGlyphs">AUTOMATION</text>
<text x="1098.9" y="556.4" font-size="28.4" textLength="103.8" lengthAdjust="spacingAndGlyphs">SCRIPT</text>
<text x="1711.8" y="476.4" font-size="28.4" textLength="181.0" lengthAdjust="spacingAndGlyphs">INNOVATION</text>
<text x="1719.9" y="506.1" font-size="28.4" textLength="167.3" lengthAdjust="spacingAndGlyphs">&amp; FREEDOM</text>
<text x="1446.8" y="973.8" font-size="23.5" textLength="100.7" lengthAdjust="spacingAndGlyphs">SHARED</text>
<text x="1428.4" y="998.2" font-size="23.5" textLength="155.6" lengthAdjust="spacingAndGlyphs">KNOWLEDGE</text>
</g>
</svg>
</body></html>
